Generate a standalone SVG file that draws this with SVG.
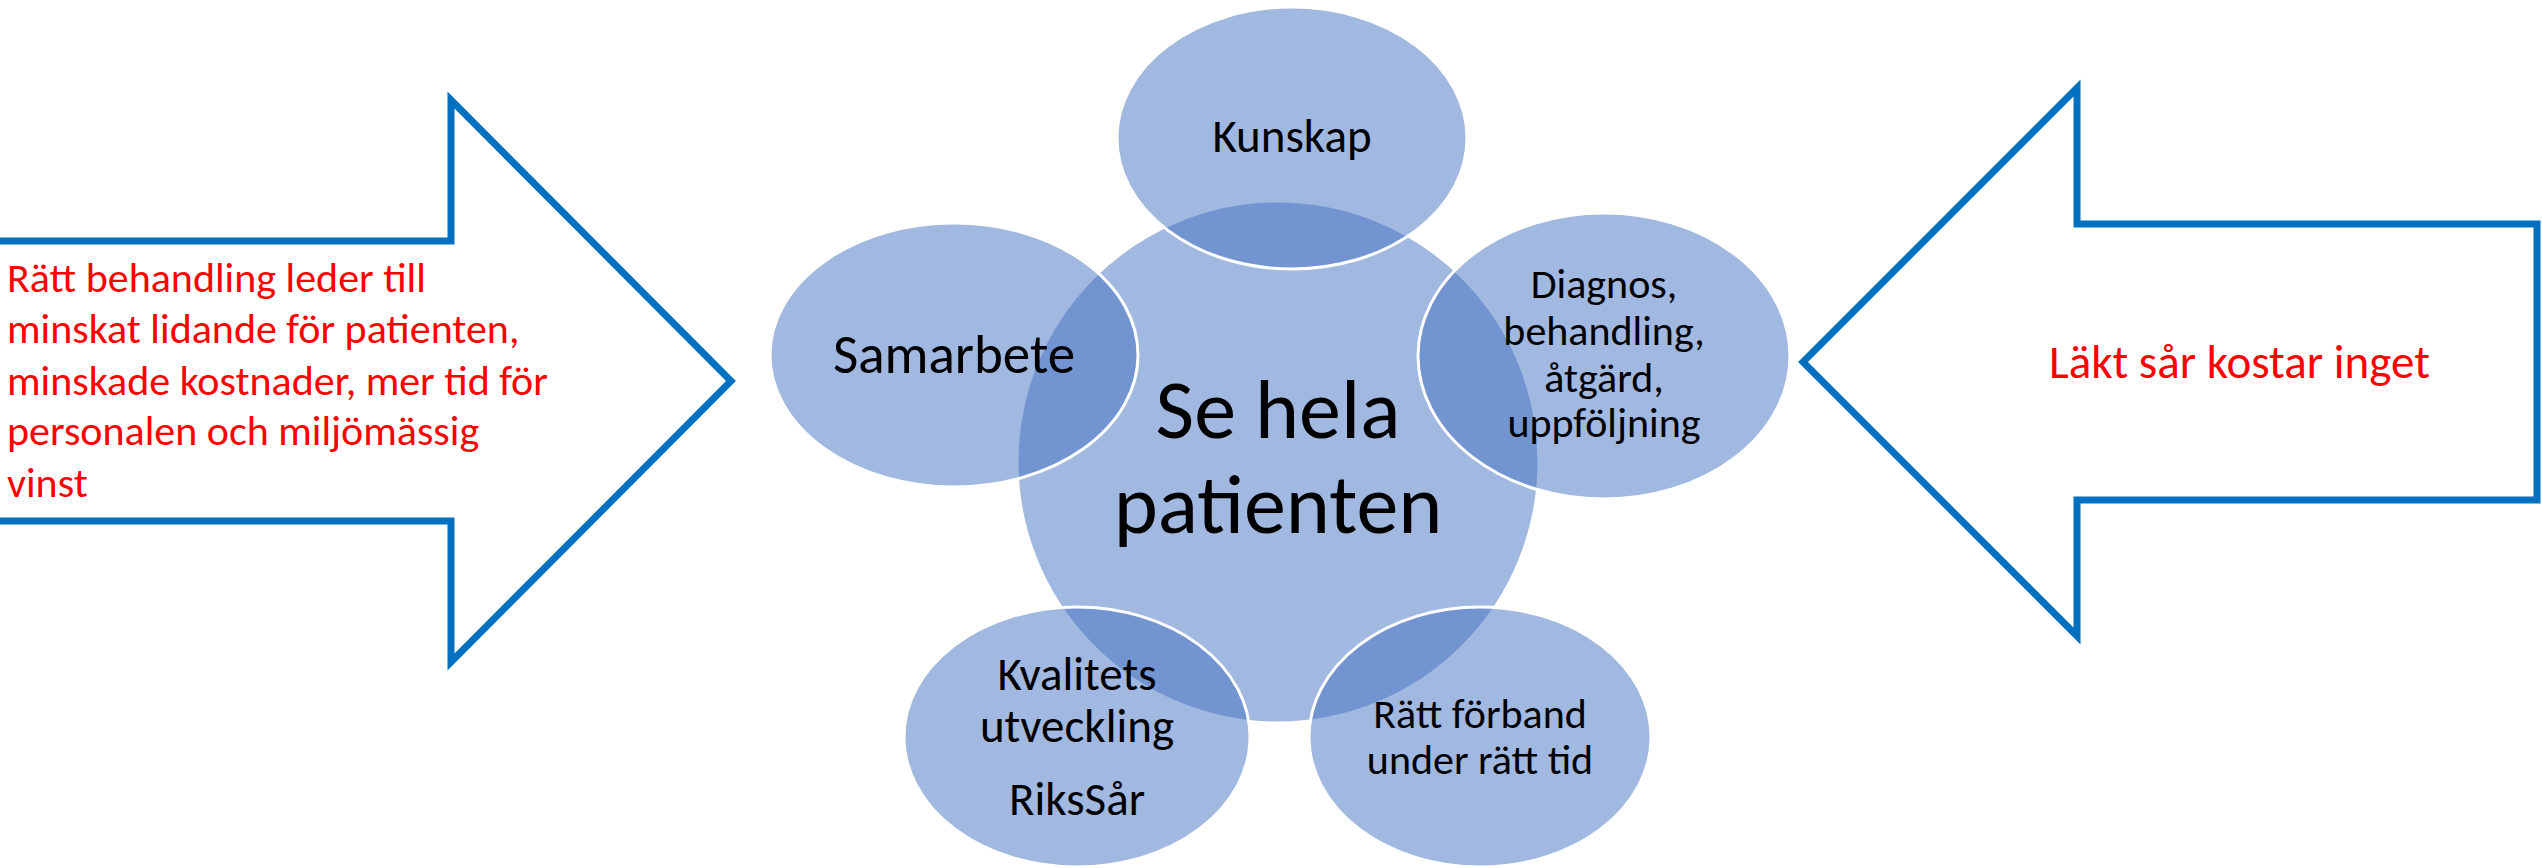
<svg xmlns="http://www.w3.org/2000/svg" width="2542" height="868" viewBox="0 0 2542 868">
<style>
.arrow{fill:#FFFFFF;stroke:#0070C0;stroke-width:7;stroke-linejoin:miter;stroke-miterlimit:10}
.bub{fill:#4472C4;fill-opacity:0.5;stroke:#FFFFFF;stroke-width:3}
.t{font-family:Carlito,Calibri,Lato,"Liberation Sans",sans-serif;fill:#000000;text-anchor:middle}
.r{font-family:Carlito,Calibri,Lato,"Liberation Sans",sans-serif;fill:#FF0000}
</style>
<rect width="2542" height="868" fill="#FFFFFF"/>
<g id="left-arrow">
<path class="arrow" d="M-10,241 L451,241 L451,100 L731,381 L451,662 L451,521 L-10,521 Z"/>
<text class="r" font-size="42"><tspan x="7" y="292">Rätt behandling leder till</tspan><tspan x="7" y="343">minskat lidande för patienten,</tspan><tspan x="7" y="395">minskade kostnader, mer tid för</tspan><tspan x="7" y="445">personalen och miljömässig</tspan><tspan x="7" y="497">vinst</tspan></text>
</g>
<g id="right-arrow">
<path class="arrow" d="M2537,224 L2077,224 L2077,88 L1803,362 L2077,636 L2077,500 L2537,500 Z"/>
<text class="r" font-size="47" x="2049" y="378">Läkt sår kostar inget</text>
</g>
<g id="center">
<circle class="bub" cx="1278" cy="462" r="261"/>
<text class="t" font-size="84"><tspan x="1278" y="438">Se hela</tspan><tspan x="1278" y="533">patienten</tspan></text>
</g>
<g id="kunskap">
<ellipse class="bub" cx="1292" cy="138" rx="175" ry="131"/>
<text class="t" font-size="47" x="1292" y="152">Kunskap</text>
</g>
<g id="diagnos">
<ellipse class="bub" cx="1604" cy="356" rx="186" ry="143"/>
<text class="t" font-size="42"><tspan x="1604" y="298">Diagnos,</tspan><tspan x="1604" y="345">behandling,</tspan><tspan x="1604" y="392">åtgärd,</tspan><tspan x="1604" y="437">uppföljning</tspan></text>
</g>
<g id="ratt-forband">
<ellipse class="bub" cx="1480" cy="737" rx="171" ry="130"/>
<text class="t" font-size="42"><tspan x="1480" y="728">Rätt förband</tspan><tspan x="1480" y="774">under rätt tid</tspan></text>
</g>
<g id="kvalitet">
<ellipse class="bub" cx="1077" cy="737" rx="173" ry="130"/>
<text class="t" font-size="47"><tspan x="1077" y="690">Kvalitets</tspan><tspan x="1077" y="742">utveckling</tspan><tspan x="1077" y="815">RiksSår</tspan></text>
</g>
<g id="samarbete">
<ellipse class="bub" cx="954" cy="355" rx="184" ry="132"/>
<text class="t" font-size="55" x="954" y="373">Samarbete</text>
</g>
<g id="connectors"></g>
</svg>
